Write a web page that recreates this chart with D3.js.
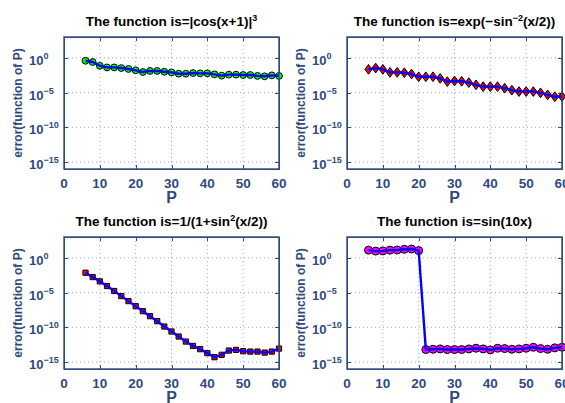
<!DOCTYPE html>
<html lang="en">

<head>
    <meta charset="utf-8">
    <title>Error vs P</title>
    <script type="text/javascript" src="https://cdn.jsdelivr.net/npm/d3@7/dist/d3.min.js" charset="utf-8"></script>
    <style type="text/css">
    body {
        margin: 0;
        background: white;
    }

    text {
        font-family: "Liberation Sans", Arial, sans-serif;
        font-weight: bold;
    }

    .axis path,
    .axis line {
        fill: none;
        stroke: #2e4a7d;
        shape-rendering: crispEdges;
    }
    </style>
</head>

<body>
    <script type="text/javascript">
    // Data
    var P = [6, 8, 10, 12, 14, 16, 18, 20, 22, 24, 26, 28, 30, 32, 34, 36, 38, 40, 42, 44, 46, 48, 50, 52, 54, 56, 58, 60];

    var errCos = [3.8e-1, 2.5e-1, 7.2e-2, 4.2e-2, 4.2e-2, 3.4e-2, 2.5e-2, 1.6e-2, 9.1e-3, 1.3e-2,
        1.3e-2, 1.0e-2, 8.1e-3, 5.2e-3, 5.2e-3, 6.5e-3, 5.9e-3, 5.9e-3, 4.2e-3, 2.7e-3,
        3.8e-3, 3.8e-3, 3.4e-3, 3.4e-3, 2.5e-3, 2.2e-3, 3.0e-3, 2.5e-3];

    var errExp = [2.2e-2, 3.4e-2, 2.2e-2, 8.1e-3, 8.1e-3, 7.2e-3, 4.7e-3, 1.9e-3, 1.9e-3, 1.9e-3,
        1.1e-3, 3.8e-4, 4.7e-4, 4.2e-4, 2.7e-4, 1.3e-4, 7.2e-5, 7.2e-5, 7.2e-5, 4.2e-5,
        2.2e-5, 1.4e-5, 1.4e-5, 1.4e-5, 9.1e-6, 4.7e-6, 2.5e-6, 2.7e-6];

    var errRunge = [7.2e-3, 1.7e-3, 4.1e-4, 8.7e-5, 1.7e-5, 3.1e-6, 5.9e-7, 1.1e-7, 2.1e-8, 4.0e-9,
        7.6e-10, 1.3e-10, 2.5e-11, 4.7e-12, 8.9e-13, 2.1e-13, 7.1e-14, 1.9e-14, 5.0e-15, 1.1e-14,
        4.5e-14, 5.6e-14, 3.6e-14, 3.2e-14, 3.2e-14, 2.3e-14, 3.2e-14, 8.7e-14];

    var errSin = [12.9, 9.3, 10, 12.9, 13.5, 17, 18.6, 11, 6.3e-14, 6.9e-14,
        7.8e-14, 6.3e-14, 6.3e-14, 6.3e-14, 7.8e-14, 9.8e-14, 7.8e-14, 5.6e-14, 9.8e-14, 8.7e-14,
        6.9e-14, 7.8e-14, 9.8e-14, 1.35e-13, 8.7e-14, 6.9e-14, 1.1e-13, 1.35e-13];

    // Tick values
    var xTicks = [0, 10, 20, 30, 40, 50, 60];
    var yTicks = [1e0, 1e-5, 1e-10, 1e-15];
    var yTickExp = ["0", "\u22125", "\u221210", "\u221215"];

    // Panel titles: plain part, superscript, tail
    var titles = [
        ["The function is=|cos(x+1)|", "3", ""],
        ["The function is=exp(\u2212sin", "\u22122", "(x/2))"],
        ["The function is=1/(1+sin", "2", "(x/2))"],
        ["The function is=sin(10x)", "", ""]
    ];

    var axisColor = "#2e4a7d";
    var plotW = 215;
    var plotH = 132;

    var svg = d3.select("body")
        .append("svg")
        .attr("width", 565)
        .attr("height", 403);

    drawPanel(64, 37, titles[0], errCos, "circle", "#00ff00", 3.4);
    drawPanel(347, 37, titles[1], errExp, "diamond", "#ff0000", 3.6);
    drawPanel(64, 237, titles[2], errRunge, "square", "#ff0000", 2.6);
    drawPanel(347, 237, titles[3], errSin, "circle", "#ff00ff", 4);

    function drawPanel(left, top, title, values, shape, fill, size) {
        var g = svg.append("g")
            .attr("transform", "translate(" + left + "," + top + ")");

        var xScale = d3.scaleLinear().domain([0, 60]).range([0, plotW]);
        var yScale = d3.scaleLog().domain([1e-16, 1e3]).range([plotH, 0]);

        // dotted grid
        g.selectAll(".vgrid")
            .data(xTicks.slice(1, -1))
            .enter().append("line")
            .attr("x1", function(d) { return xScale(d); })
            .attr("x2", function(d) { return xScale(d); })
            .attr("y1", 0)
            .attr("y2", plotH)
            .attr("stroke", "#9ea9c9")
            .attr("stroke-dasharray", "1,3");

        g.selectAll(".hgrid")
            .data(yTicks)
            .enter().append("line")
            .attr("x1", 0)
            .attr("x2", plotW)
            .attr("y1", function(d) { return yScale(d); })
            .attr("y2", function(d) { return yScale(d); })
            .attr("stroke", "#9ea9c9")
            .attr("stroke-dasharray", "1,3");

        // inward ticks on all four sides
        g.append("g").attr("class", "axis")
            .attr("transform", "translate(0," + plotH + ")")
            .call(d3.axisBottom(xScale).tickValues(xTicks).tickSize(-4).tickFormat("").tickSizeOuter(0));
        g.append("g").attr("class", "axis")
            .call(d3.axisTop(xScale).tickValues(xTicks).tickSize(-4).tickFormat("").tickSizeOuter(0));
        g.append("g").attr("class", "axis")
            .call(d3.axisLeft(yScale).tickValues(yTicks).tickSize(-4).tickFormat("").tickSizeOuter(0));
        g.append("g").attr("class", "axis")
            .attr("transform", "translate(" + plotW + ",0)")
            .call(d3.axisRight(yScale).tickValues(yTicks).tickSize(-4).tickFormat("").tickSizeOuter(0));

        // markers first, line drawn over them
        var pts = P.map(function(p, i) { return [p, values[i]]; });

        var sym = shape == "square" ? d3.symbolSquare : d3.symbolCircle;
        if (shape == "diamond") {
            g.selectAll(".mark")
                .data(pts)
                .enter().append("path")
                .attr("d", function(d) {
                    var cx = xScale(d[0]), cy = yScale(d[1]);
                    return "M" + cx + "," + (cy - size * 1.35) + "L" + (cx + size) + "," + cy +
                        "L" + cx + "," + (cy + size * 1.35) + "L" + (cx - size) + "," + cy + "Z";
                })
                .attr("fill", fill)
                .attr("stroke", "black")
                .attr("stroke-width", 1);
        } else {
            g.selectAll(".mark")
                .data(pts)
                .enter().append("path")
                .attr("transform", function(d) {
                    return "translate(" + xScale(d[0]) + "," + yScale(d[1]) + ")";
                })
                .attr("d", d3.symbol().type(sym).size(shape == "square" ? 4 * size * size : Math.PI * size * size))
                .attr("fill", fill)
                .attr("stroke", "black")
                .attr("stroke-width", 1);
        }

        var line = d3.line()
            .x(function(d) { return xScale(d[0]); })
            .y(function(d) { return yScale(d[1]); });

        g.append("path")
            .datum(pts)
            .attr("d", line)
            .attr("fill", "none")
            .attr("stroke", "#0000ff")
            .attr("stroke-width", 2.4)
            .attr("stroke-linejoin", "round");

        // frame
        g.append("rect")
            .attr("width", plotW)
            .attr("height", plotH)
            .attr("fill", "none")
            .attr("stroke", axisColor)
            .attr("stroke-width", 1.4);

        // x tick labels
        g.selectAll(".xlab")
            .data(xTicks)
            .enter().append("text")
            .attr("x", function(d) { return xScale(d); })
            .attr("y", plotH + 19)
            .attr("text-anchor", "middle")
            .attr("font-size", "13.5px")
            .attr("fill", axisColor)
            .text(function(d) { return d; });

        // y tick labels 10^n
        var ylab = g.selectAll(".ylab")
            .data(yTicks)
            .enter().append("text")
            .attr("x", -35)
            .attr("y", function(d) { return yScale(d) + 7; })
            .attr("font-size", "13px")
            .attr("fill", axisColor);
        ylab.append("tspan").text("10");
        ylab.append("tspan")
            .attr("dy", -6)
            .attr("font-size", "9px")
            .text(function(d, i) { return yTickExp[i]; });

        // axis titles
        g.append("text")
            .attr("x", plotW / 2)
            .attr("y", plotH + 34)
            .attr("text-anchor", "middle")
            .attr("font-size", "16px")
            .attr("fill", axisColor)
            .text("P");

        g.append("text")
            .attr("transform", "translate(-42," + (plotH / 2) + ") rotate(-90)")
            .attr("text-anchor", "middle")
            .attr("font-size", "12px")
            .attr("fill", axisColor)
            .text("error(function of P)");

        // panel title
        var t = g.append("text")
            .attr("x", plotW / 2)
            .attr("y", -11)
            .attr("text-anchor", "middle")
            .attr("font-size", "13.5px")
            .attr("fill", "black");
        t.append("tspan").text(title[0]);
        if (title[1] != "") {
            t.append("tspan").attr("dy", -5).attr("font-size", "9px").text(title[1]);
            t.append("tspan").attr("dy", 5).text(title[2]);
        }
    }
    </script>
</body>

</html>
